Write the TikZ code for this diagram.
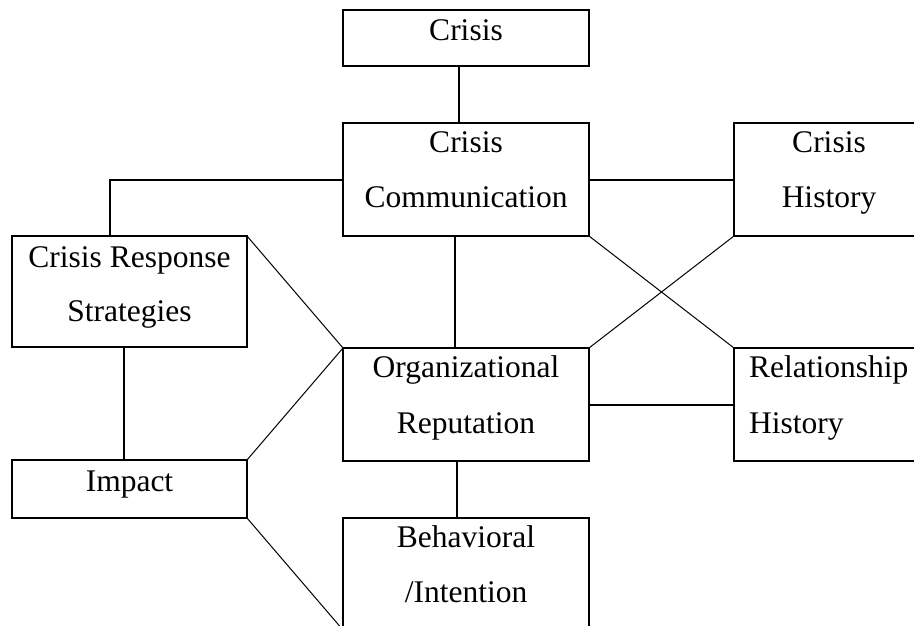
\documentclass[tikz,border=0pt]{standalone}
\usepackage{fontspec}
\setmainfont{Liberation Serif}
\begin{document}
\begin{tikzpicture}[x=1pt,y=-1pt,
  box/.style={draw, line width=2pt, rectangle, inner sep=0pt, outer sep=0pt, anchor=north west},
  txt/.style={inner sep=0pt, anchor=base, font=\fontsize{31.5}{38}\selectfont},
  txtl/.style={txt, anchor=base west},
  conn/.style={line width=2pt},
  diag/.style={line width=1pt}]
\useasboundingbox (0,0) rectangle (914,626);
% boxes
\node[box, minimum width=246pt, minimum height=56pt]  (crisis) at (343,10) {};
\node[box, minimum width=246pt, minimum height=113pt] (cc)     at (343,123) {};
\node[box, minimum width=190pt, minimum height=113pt] (ch)     at (734,123) {};
\node[box, minimum width=235pt, minimum height=111pt] (crs)    at (12,236) {};
\node[box, minimum width=246pt, minimum height=113pt] (org)    at (343,348) {};
\node[box, minimum width=190pt, minimum height=113pt] (rh)     at (734,348) {};
\node[box, minimum width=235pt, minimum height=58pt]  (imp)    at (12,460) {};
\node[box, minimum width=246pt, minimum height=112pt] (beh)    at (343,518) {};
% texts
\node[txt] (t1) at (466,41) {Crisis};
\node[txt] (t2) at (466,152) {Crisis};
\node[txt] (t3) at (466,207) {Communication};
\node[txt] (t4) at (829,152) {Crisis};
\node[txt] (t5) at (829,207) {History};
\node[txt] (t6) at (129.5,267) {Crisis Response};
\node[txt] (t7) at (129.5,321) {Strategies};
\node[txt] (t8) at (466,377) {Organizational};
\node[txt] (t9) at (466,433) {Reputation};
\node[txtl] (t10) at (749,377) {Relationship};
\node[txtl] (t11) at (749,433) {History};
\node[txt] (t12) at (129.5,491) {Impact};
\node[txt] (t13) at (466,547) {Behavioral};
\node[txt] (t14) at (466,602) {/Intention};
% connectors
\draw[conn] ([xshift=-7pt]crisis.south) -- ([xshift=-7pt]cc.north);
\draw[conn] (cc.west) -| ([xshift=-19.5pt]crs.north);
\draw[conn] (cc.east) -- (ch.west);
\draw[conn] ([xshift=-11pt]cc.south) -- ([xshift=-11pt]org.north);
\draw[conn] ([xshift=-5.5pt]crs.south) -- ([xshift=-5.5pt]imp.north);
\draw[conn] (org.east) -- (rh.west);
\draw[conn] ([xshift=-9pt]org.south) -- ([xshift=-9pt]beh.north);
\draw[diag] (crs.north east) -- (org.north west);
\draw[diag] (imp.north east) -- (org.north west);
\draw[diag] (imp.south east) -- (beh.south west);
\draw[diag] (cc.south east) -- (rh.north west);
\draw[diag] (ch.south west) -- (org.north east);
\end{tikzpicture}
\end{document}
